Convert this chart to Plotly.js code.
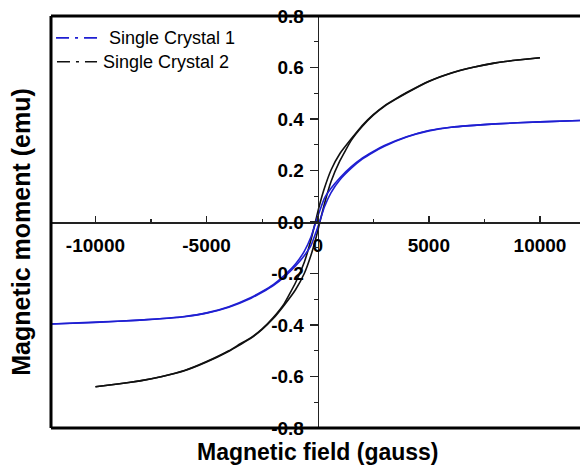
<!DOCTYPE html>
<html>
<head>
<meta charset="utf-8">
<script src="https://cdn.plot.ly/plotly-3.0.1.min.js"></script>
<style>
  html, body { margin: 0; padding: 0; background: #fff; }
  #chart { width: 580px; height: 467px; }
</style>
</head>
<body>
<div id="chart"></div>
<script>
// Hysteresis loops M(H) of two single crystals.
const seriesNames = ['Single Crystal 1', 'Single Crystal 2'];
const seriesColors = ['#1f1fd2', '#111111'];

// Crystal 1: descending branch (field swept from + to -)
const fieldC1Down = [12000, 10000, 8000, 6000, 5000, 4000, 3000, 2500, 2000, 1500, 1000, 600, 300, 100, 0,
  -100, -300, -600, -1000, -1500, -2000, -2500, -3000, -4000, -5000, -6000, -8000, -10000, -12000];
const momentC1Down = [0.395, 0.389, 0.381, 0.368, 0.355, 0.331, 0.297, 0.274, 0.248, 0.214, 0.172, 0.131, 0.092, 0.046, 0.021,
  -0.004, -0.057, -0.113, -0.163, -0.207, -0.243, -0.270, -0.293, -0.329, -0.353, -0.367, -0.381, -0.389, -0.396];
// Crystal 1: ascending branch (field swept from - to +)
const fieldC1Up = [-12000, -10000, -8000, -6000, -5000, -4000, -3000, -2500, -2000, -1500, -1000, -600, -300, -100, 0,
  100, 300, 600, 1000, 1500, 2000, 2500, 3000, 4000, 5000, 6000, 8000, 10000, 12000];
const momentC1Up = [-0.396, -0.390, -0.381, -0.368, -0.354, -0.331, -0.296, -0.273, -0.247, -0.213, -0.171, -0.130, -0.091, -0.045, -0.020,
  0.005, 0.058, 0.114, 0.164, 0.208, 0.244, 0.271, 0.294, 0.330, 0.354, 0.368, 0.381, 0.389, 0.395];

// Crystal 2: descending branch
const fieldC2Down = [10000, 9000, 8000, 7000, 6000, 5000, 4000, 3500, 3000, 2500, 2000, 1500, 1000, 600, 300, 100, 0,
  -100, -300, -600, -1000, -1500, -2000, -2500, -3000, -3500, -4000, -5000, -6000, -7000, -8000, -9000, -10000];
const momentC2Down = [0.638, 0.629, 0.618, 0.601, 0.579, 0.547, 0.503, 0.478, 0.451, 0.417, 0.375, 0.322, 0.266, 0.202, 0.131, 0.072, 0.038,
  0.002, -0.068, -0.155, -0.236, -0.316, -0.371, -0.415, -0.449, -0.474, -0.500, -0.542, -0.577, -0.600, -0.617, -0.629, -0.640];
// Crystal 2: ascending branch
const fieldC2Up = [-10000, -9000, -8000, -7000, -6000, -5000, -4000, -3500, -3000, -2500, -2000, -1500, -1000, -600, -300, -100, 0,
  100, 300, 600, 1000, 1500, 2000, 2500, 3000, 3500, 4000, 5000, 6000, 7000, 8000, 9000, 10000];
const momentC2Up = [-0.640, -0.629, -0.617, -0.600, -0.578, -0.544, -0.502, -0.477, -0.451, -0.417, -0.375, -0.322, -0.263, -0.199, -0.128, -0.069, -0.035,
  0.001, 0.070, 0.157, 0.238, 0.316, 0.371, 0.415, 0.449, 0.476, 0.501, 0.546, 0.578, 0.601, 0.618, 0.629, 0.638];

// Axis ticks
const xTickVals = [-10000, -5000, 0, 5000, 10000];
const xTickText = ['-10000', '-5000', '0', '5000', '10000'];
const yTickVals = [-0.8, -0.6, -0.4, -0.2, 0.0, 0.2, 0.4, 0.6, 0.8];
const yTickText = ['-0.8', '-0.6', '-0.4', '-0.2', '0.0', '0.2', '0.4', '0.6', '0.8'];

const xRange = [-12000, 11800];
const yRange = [-0.8, 0.8];

const FONT = 'Arial, "Liberation Sans", Helvetica, sans-serif';

function branch(x, y, color) {
  return {
    x: x, y: y, type: 'scatter', mode: 'lines',
    line: { color: color, width: 1.6, shape: 'spline', smoothing: 0.35 },
    showlegend: false, hoverinfo: 'skip'
  };
}

const traces = [
  branch(fieldC2Down, momentC2Down, seriesColors[1]),
  branch(fieldC2Up, momentC2Up, seriesColors[1]),
  branch(fieldC1Down, momentC1Down, seriesColors[0]),
  branch(fieldC1Up, momentC1Up, seriesColors[0])
];

// position of the vertical axis at H = 0, as a fraction of the plot width
const yAxisPos = (0 - xRange[0]) / (xRange[1] - xRange[0]);

const tickFont = { family: FONT, size: 19, color: '#000', weight: 'bold' };

// Legend drawn as dash-dot samples plus labels
const legendRows = [
  { y: 0.947, x0: 0.0095, x1: 0.0888, tx: 0.1060 },
  { y: 0.889, x0: 0.0113, x1: 0.0870, tx: 0.0947 }
];
const legendShapes = legendRows.map((r, i) => ({
  type: 'line', xref: 'paper', yref: 'paper',
  x0: r.x0, x1: r.x1, y0: r.y, y1: r.y,
  line: { color: seriesColors[i], width: 1.6, dash: '13px,6px,3px,6px' }
}));
const legendLabels = legendRows.map((r, i) => ({
  xref: 'paper', yref: 'paper', x: r.tx, y: r.y,
  xanchor: 'left', yanchor: 'middle', showarrow: false,
  text: seriesNames[i], font: { family: FONT, size: 18, color: '#000' }
}));

const frameLine = { color: '#000', width: 3 };
const frameShapes = [
  { type: 'line', xref: 'paper', yref: 'paper', layer: 'above', x0: 0, x1: 1.01, y0: 1, y1: 1, line: frameLine },
  { type: 'line', xref: 'paper', yref: 'paper', layer: 'above', x0: 0, x1: 1.01, y0: 0, y1: 0, line: frameLine },
  { type: 'line', xref: 'paper', yref: 'paper', layer: 'above', x0: 0, x1: 0, y0: 0, y1: 1, line: frameLine }
];

const layout = {
  width: 580, height: 467,
  margin: { l: 51, r: 0, t: 16, b: 39 },
  paper_bgcolor: '#fff', plot_bgcolor: '#fff',
  showlegend: false,
  font: { family: FONT, color: '#000' },
  xaxis: {
    range: xRange, anchor: 'free', position: 0.5,
    showline: true, linecolor: '#222', linewidth: 1.5,
    showgrid: false, zeroline: false,
    tickmode: 'array', tickvals: xTickVals, ticktext: xTickText,
    ticks: 'inside', ticklen: 6, tickwidth: 1.5, tickcolor: '#222',
    ticklabelstandoff: 6,
    minor: { tickmode: 'linear', tick0: 0, dtick: 2500, ticks: 'inside', ticklen: 3, tickwidth: 1.2, tickcolor: '#222' },
    tickfont: tickFont
  },
  yaxis: {
    range: yRange, anchor: 'free', position: yAxisPos,
    showline: true, linecolor: '#222', linewidth: 1.5,
    showgrid: false, zeroline: false,
    tickmode: 'array', tickvals: yTickVals, ticktext: yTickText,
    ticks: 'outside', ticklen: 8, tickwidth: 1.5, tickcolor: '#222',
    ticklabelstandoff: 2,
    minor: { tickmode: 'linear', tick0: 0, dtick: 0.1, ticks: 'outside', ticklen: 4, tickwidth: 1.2, tickcolor: '#222' },
    tickfont: tickFont
  },
  shapes: frameShapes.concat(legendShapes),
  annotations: [
    {
      xref: 'paper', yref: 'paper', x: 0.505, y: -0.058,
      xanchor: 'center', yanchor: 'middle', showarrow: false,
      text: 'Magnetic field (gauss)',
      font: { family: FONT, size: 23, color: '#000', weight: 'bold' }
    },
    {
      xref: 'paper', yref: 'paper', x: -0.057, y: 0.476,
      xanchor: 'center', yanchor: 'middle', showarrow: false, textangle: -90,
      text: 'Magnetic moment (emu)',
      font: { family: FONT, size: 25, color: '#000', weight: 'bold' }
    }
  ].concat(legendLabels)
};

Plotly.newPlot('chart', traces, layout, { staticPlot: true, displayModeBar: false });
</script>
</body>
</html>
